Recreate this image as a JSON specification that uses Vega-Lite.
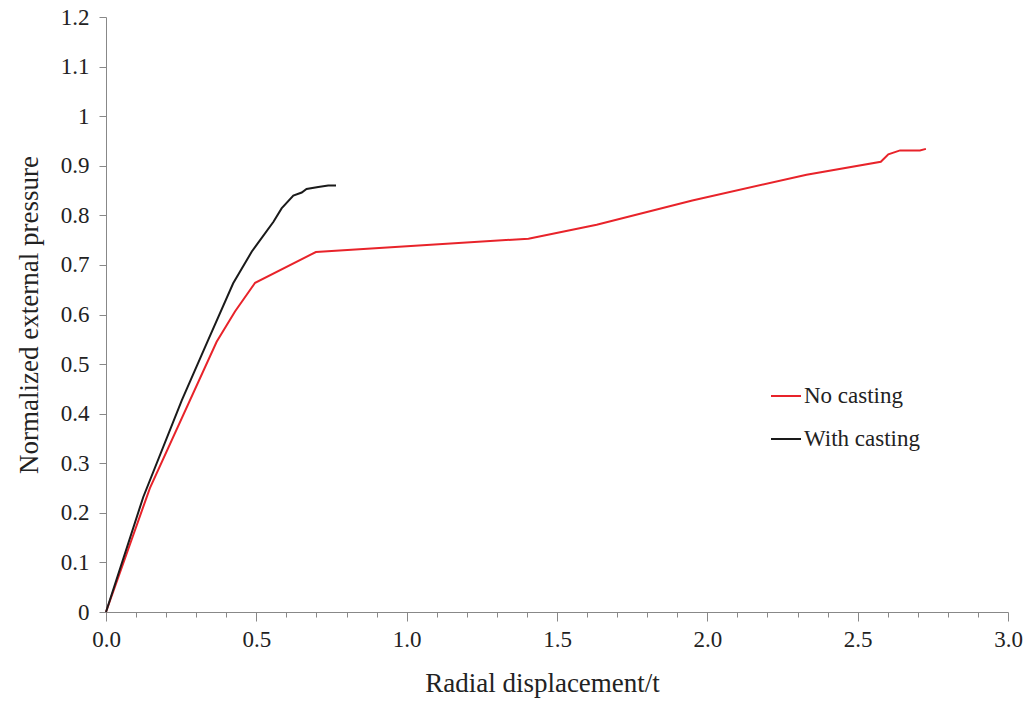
{
  "$schema": "https://vega.github.io/schema/vega-lite/v6.json",
  "width": 902,
  "height": 595,
  "autosize": {"type": "none"},
  "padding": {"left": 106, "top": 17, "right": 20, "bottom": 96},
  "background": "white",
  "config": {
    "view": {"stroke": null},
    "font": "Liberation Serif",
    "axis": {
      "labelFont": "Liberation Serif",
      "titleFont": "Liberation Serif",
      "labelFontSize": 23,
      "titleFontSize": 27,
      "titleFontWeight": "normal",
      "labelColor": "#222",
      "titleColor": "#222",
      "domainColor": "#888",
      "tickColor": "#888",
      "labelFlush": false,
      "grid": false
    }
  },
  "data": {
    "values": [
      {"series": "No casting", "x": 0.0, "y": 0.0},
      {"series": "No casting", "x": 0.146, "y": 0.250},
      {"series": "No casting", "x": 0.368, "y": 0.545},
      {"series": "No casting", "x": 0.429, "y": 0.606},
      {"series": "No casting", "x": 0.496, "y": 0.664},
      {"series": "No casting", "x": 0.698, "y": 0.726},
      {"series": "No casting", "x": 1.405, "y": 0.753},
      {"series": "No casting", "x": 1.632, "y": 0.781},
      {"series": "No casting", "x": 1.95, "y": 0.830},
      {"series": "No casting", "x": 2.330, "y": 0.882},
      {"series": "No casting", "x": 2.577, "y": 0.908},
      {"series": "No casting", "x": 2.602, "y": 0.923},
      {"series": "No casting", "x": 2.641, "y": 0.931},
      {"series": "No casting", "x": 2.707, "y": 0.931},
      {"series": "No casting", "x": 2.727, "y": 0.934},
      {"series": "With casting", "x": 0.0, "y": 0.0},
      {"series": "With casting", "x": 0.124, "y": 0.232},
      {"series": "With casting", "x": 0.252, "y": 0.427},
      {"series": "With casting", "x": 0.340, "y": 0.549},
      {"series": "With casting", "x": 0.423, "y": 0.663},
      {"series": "With casting", "x": 0.485, "y": 0.727},
      {"series": "With casting", "x": 0.557, "y": 0.787},
      {"series": "With casting", "x": 0.584, "y": 0.814},
      {"series": "With casting", "x": 0.623, "y": 0.840},
      {"series": "With casting", "x": 0.651, "y": 0.846},
      {"series": "With casting", "x": 0.667, "y": 0.853},
      {"series": "With casting", "x": 0.706, "y": 0.857},
      {"series": "With casting", "x": 0.739, "y": 0.860},
      {"series": "With casting", "x": 0.765, "y": 0.860}
    ]
  },
  "mark": {"type": "line", "strokeWidth": 2},
  "encoding": {
    "x": {
      "field": "x",
      "type": "quantitative",
      "scale": {"domain": [0, 3], "nice": false, "zero": true},
      "axis": {
        "title": "Radial displacement/t",
        "titleX": 436,
        "values": [0,0.1,0.2,0.3,0.4,0.5,0.6,0.7,0.8,0.9,1,1.1,1.2,1.3,1.4,1.5,1.6,1.7,1.8,1.9,2,2.1,2.2,2.3,2.4,2.5,2.6,2.7,2.8,2.9,3],
        "labelExpr": "abs(round(datum.value*2) - datum.value*2) < 0.001 ? format(datum.value, '.1f') : ''",
        "tickSize": {"expr": "abs(round(datum.value*2) - datum.value*2) < 0.001 ? 9 : 5"},
        "labelPadding": 7,
        "titlePadding": 19
      }
    },
    "y": {
      "field": "y",
      "type": "quantitative",
      "scale": {"domain": [0, 1.2], "nice": false},
      "axis": {
        "title": "Normalized external pressure",
        "values": [0,0.1,0.2,0.3,0.4,0.5,0.6,0.7,0.8,0.9,1,1.1,1.2],
        "labelExpr": "format(datum.value, '.1~f')",
        "tickSize": 7,
        "labelPadding": 10,
        "titlePadding": 17
      }
    },
    "color": {
      "field": "series",
      "type": "nominal",
      "scale": {"domain": ["No casting", "With casting"], "range": ["#e8232a", "#1a1a1a"]},
      "legend": {
        "title": null,
        "orient": "none",
        "legendX": 664,
        "legendY": 363,
        "symbolType": "stroke",
        "symbolSize": 900,
        "symbolStrokeWidth": 2,
        "labelFont": "Liberation Serif",
        "labelFontSize": 23,
        "labelColor": "#222",
        "labelOffset": 2,
        "rowPadding": 15
      }
    }
  }
}
